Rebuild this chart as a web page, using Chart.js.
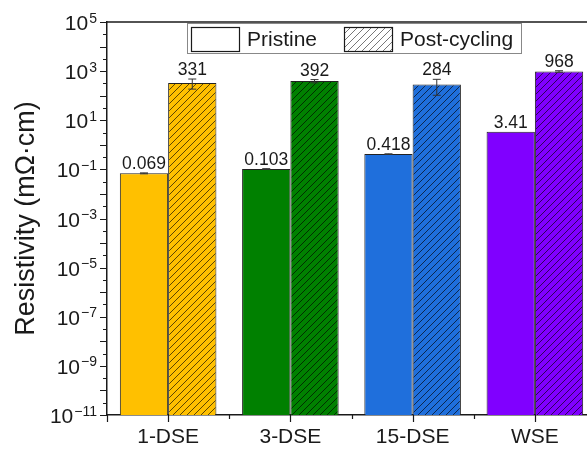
<!DOCTYPE html>
<html>
<head>
<meta charset="utf-8">
<script src="https://cdn.jsdelivr.net/npm/chart.js@4.4.1/dist/chart.umd.min.js"></script>
<style>
  html, body { margin: 0; padding: 0; background: #fff; overflow: hidden; }
  #wrap { width: 610px; height: 452px; }
</style>
</head>
<body>
<div id="wrap"><canvas id="resChart" width="610" height="452"></canvas></div>
<script>
// --- Data ---
const categories = ['1-DSE', '3-DSE', '15-DSE', 'WSE'];
const seriesNames = ['Pristine', 'Post-cycling'];
const pristine = [0.069, 0.103, 0.418, 3.41];
const pristineErr = [0.003, 0.004, 0.012, 0];
const postCycling = [331, 392, 284, 968];
const postCyclingErr = [146, 60, 180, 70];
const yExponents = [5, 3, 1, -1, -3, -5, -7, -9, -11];

// --- Styles ---
const FONT = 'Liberation Sans, Arial, Helvetica, sans-serif';
const barColors = ['#FFC000', '#008000', '#1F6FDC', '#8000FF'];
const INK = '#1a1a1a';

Chart.defaults.font.family = FONT;
Chart.defaults.color = INK;

const ctx = document.getElementById('resChart').getContext('2d');

// diagonal "///" fill used for the post-cycling bars
function hatch(color, lineColor) {
    const s = 7;
    const c = document.createElement('canvas');
    c.width = s; c.height = s;
    const g = c.getContext('2d');
    g.fillStyle = color;
    g.fillRect(0, 0, s, s);
    g.strokeStyle = lineColor;
    g.lineWidth = 0.8;
    g.beginPath();
    g.moveTo(-1, s + 1); g.lineTo(s + 1, -1);
    g.moveTo(-1, 1); g.lineTo(1, -1);
    g.moveTo(s - 1, s + 1); g.lineTo(s + 1, s - 1);
    g.stroke();
    return ctx.createPattern(c, 'repeat');
}

const hatchFills = barColors.map(c => hatch(c, 'rgba(0,0,0,0.8)'));
const legendHatch = hatch('#ffffff', '#555');

// --- Plugins ---
const errorBars = {
    id: 'errorBars',
    afterDatasetsDraw(chart) {
        const { ctx, scales: { y } } = chart;
        ctx.save();
        chart.data.datasets.forEach((ds, di) => {
            const meta = chart.getDatasetMeta(di);
            meta.data.forEach((bar, i) => {
                const v = ds.data[i];
                const e = ds.errors[i];
                const top = y.getPixelForValue(v + e);
                const bot = y.getPixelForValue(Math.max(v - e, y.min));
                if (e > 0) {
                    ctx.strokeStyle = '#333';
                    ctx.lineWidth = 1;
                    ctx.beginPath();
                    ctx.moveTo(bar.x, top); ctx.lineTo(bar.x, bot);
                    ctx.moveTo(bar.x - 4, top); ctx.lineTo(bar.x + 4, top);
                    ctx.moveTo(bar.x - 4, bot); ctx.lineTo(bar.x + 4, bot);
                    ctx.stroke();
                }

                // value label above the bar / error cap
                ctx.fillStyle = INK;
                ctx.font = '17.5px ' + FONT;
                ctx.textAlign = 'center';
                ctx.textBaseline = 'alphabetic';
                ctx.fillText(String(v), bar.x, Math.min(bar.y, top) - 4);
            });
        });
        ctx.restore();
    }
};

const frameAndTicks = {
    id: 'frameAndTicks',
    afterDraw(chart) {
        const { ctx, chartArea: a, scales: { x, y } } = chart;
        ctx.save();
        ctx.strokeStyle = INK;
        ctx.lineWidth = 1.5;

        // top frame line
        ctx.beginPath();
        ctx.moveTo(a.left, a.top); ctx.lineTo(a.right, a.top);
        ctx.stroke();

        // y ticks: every decade long, half decades short
        ctx.lineWidth = 1.2;
        ctx.beginPath();
        for (let e = -11; e <= 5; e++) {
            const py = Math.round(y.getPixelForValue(Math.pow(10, e))) + 0.5;
            ctx.moveTo(a.left - 7, py); ctx.lineTo(a.left, py);
            if (e < 5) {
                const pm = Math.round(y.getPixelForValue(Math.pow(10, e + 0.5))) + 0.5;
                ctx.moveTo(a.left - 4, pm); ctx.lineTo(a.left, pm);
            }
        }
        // x ticks: category centres long, boundaries short
        categories.forEach((c, i) => {
            const px = Math.round(x.getPixelForValue(i)) + 0.5;
            ctx.moveTo(px, a.bottom); ctx.lineTo(px, a.bottom + 7);
            const pb = Math.round(x.getPixelForValue(i - 0.5)) + 0.5;
            ctx.moveTo(pb, a.bottom); ctx.lineTo(pb, a.bottom + (i === 0 ? 7 : 4));
        });
        ctx.stroke();

        // y tick labels: 10 with superscript exponent
        ctx.fillStyle = INK;
        ctx.textAlign = 'right';
        ctx.textBaseline = 'alphabetic';
        const right = a.left - 10;
        yExponents.forEach(e => {
            const py = y.getPixelForValue(Math.pow(10, e));
            const sup = e < 0 ? '\u2212' + Math.abs(e) : String(e);
            ctx.font = '14px ' + FONT;
            const supW = ctx.measureText(sup).width;
            ctx.fillText(sup, right, py + 0.5);
            ctx.font = '21px ' + FONT;
            ctx.fillText('10', right - supW - 1, py + 8);
        });

        // legend
        const lx = 187, ly = 23, lw = 334, lh = 30;
        ctx.fillStyle = '#fff';
        ctx.fillRect(lx, ly, lw, lh);
        ctx.strokeStyle = '#888';
        ctx.lineWidth = 1;
        ctx.strokeRect(lx + 0.5, ly + 0.5, lw, lh);

        ctx.strokeStyle = INK;
        ctx.lineWidth = 1.2;
        ctx.fillStyle = '#fff';
        ctx.fillRect(191, 27, 48, 24);
        ctx.strokeRect(191.5, 27.5, 48, 24);
        ctx.fillStyle = legendHatch;
        ctx.fillRect(344, 27, 48, 24);
        ctx.strokeRect(344.5, 27.5, 48, 24);

        ctx.fillStyle = INK;
        ctx.font = '21px ' + FONT;
        ctx.textAlign = 'left';
        ctx.textBaseline = 'middle';
        ctx.fillText(seriesNames[0], 247, 40);
        ctx.fillText(seriesNames[1], 400, 40);
        ctx.restore();
    }
};

// --- Chart ---
new Chart(ctx, {
    type: 'bar',
    data: {
        labels: categories,
        datasets: [{
            label: seriesNames[0],
            data: pristine,
            errors: pristineErr,
            backgroundColor: barColors,
            borderColor: '#222',
            borderWidth: 1
        }, {
            label: seriesNames[1],
            data: postCycling,
            errors: postCyclingErr,
            backgroundColor: hatchFills,
            borderColor: '#222',
            borderWidth: 1
        }]
    },
    options: {
        responsive: false,
        animation: false,
        layout: { padding: { top: 22, right: 14, left: 0, bottom: 0 } },
        datasets: { bar: { categoryPercentage: 0.79, barPercentage: 1 } },
        plugins: {
            legend: { display: false },
            tooltip: { enabled: false }
        },
        scales: {
            x: {
                grid: { display: false, drawTicks: false },
                border: { color: INK, width: 1.5 },
                ticks: { color: INK, font: { size: 21 }, padding: 10 },
                afterFit: s => { s.height = 37; }
            },
            y: {
                type: 'logarithmic',
                min: 1e-11,
                max: 1e5,
                grid: { display: false },
                border: { color: INK, width: 1.5 },
                ticks: { display: false },
                title: {
                    display: true,
                    text: 'Resistivity (mΩ·cm)',
                    color: INK,
                    font: { size: 27 },
                    padding: { top: 10, bottom: 0 }
                },
                afterFit: s => { s.width = 107; }
            }
        }
    },
    plugins: [errorBars, frameAndTicks]
});
</script>
</body>
</html>
